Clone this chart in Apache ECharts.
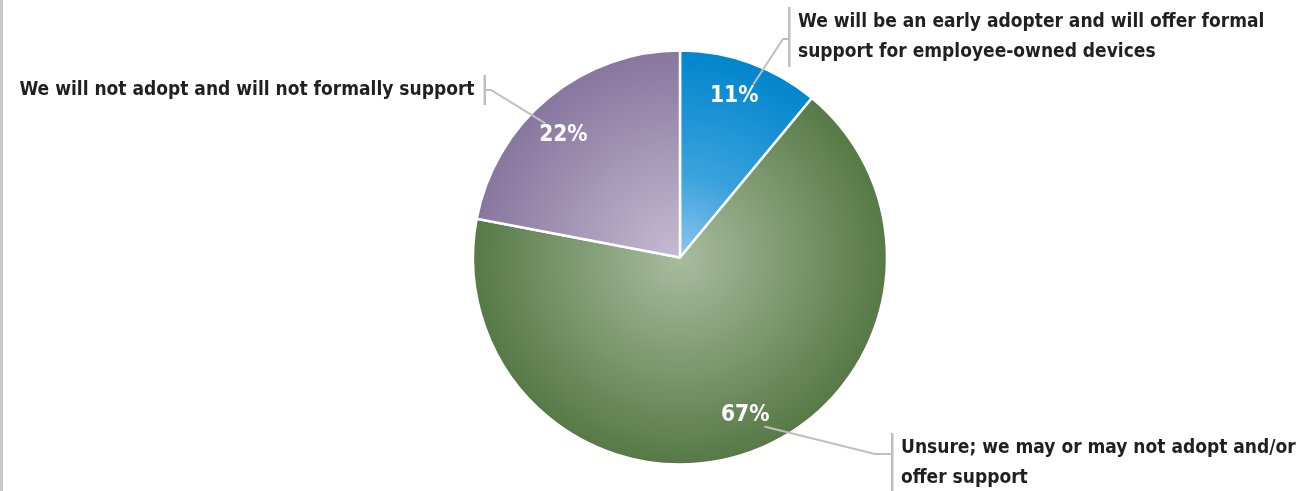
<!DOCTYPE html>
<html>
<head>
<meta charset="utf-8">
<title>Adoption of employee-owned devices</title>
<script src="https://cdn.jsdelivr.net/npm/echarts@6/dist/echarts.min.js"></script>
<style>
  html, body { margin: 0; padding: 0; background: #ffffff; }
  #chart { width: 1299px; height: 491px; }
  #rule { position: absolute; left: 0; top: 0; width: 3px; height: 491px; background: #c8c8cd; }
</style>
</head>
<body>
<div id="chart"></div>
<div id="rule"></div>
<script>
// Survey answers, in clockwise order starting at 12 o'clock
const categories = [
  'We will be an early adopter and will offer formal support for employee-owned devices',
  'Unsure; we may or may not adopt and/or offer support',
  'We will not adopt and will not formally support'
];
// How each answer is broken into lines in its callout
const calloutLines = [
  ['We will be an early adopter and will offer formal', 'support for employee-owned devices'],
  ['Unsure; we may or may not adopt and/or', 'offer support'],
  ['We will not adopt and will not formally support']
];
const values = [11, 67, 22];

// Radial gradient stops per slice (centre -> rim)
const palette = [
  [[0, '#8ec6ee'], [0.4, '#3aa2dd'], [1, '#0085cc']],
  [[0, '#a8bc9e'], [1, '#567946']],
  [[0, '#c6bbd2'], [1, '#87769e']]
];

// Pie geometry
const CX = 680, CY = 257.5, R = 207;
const PCT_R = 169;            // radius at which the percentages sit
const FONT = '"DejaVu Sans Condensed", "Liberation Sans Narrow", sans-serif';

// Small nudges of the percentage labels away from the slice mid-line
const pctNudge = [[-4, 0], [7, -4], [-7, 10]];

// Where each callout's bracket sits and how its leader line ends
const callouts = [
  { x: 788, y: 37,  lineY: 39,  elbow: 5,  side: 'right' },
  { x: 891, y: 463, lineY: 454, elbow: 16, side: 'right' },
  { x: 486, y: 90,  lineY: 90,  elbow: 5,  side: 'left' }
];

const total = values.reduce((a, b) => a + b, 0);
// Mid-angle direction of every slice (clockwise from the top)
const midDirs = (() => {
  let acc = 0;
  return values.map(v => {
    const a = (acc + v / 2) / total * Math.PI * 2;
    acc += v;
    return [Math.sin(a), -Math.cos(a)];
  });
})();

function sliceFill(i) {
  return {
    type: 'radial', x: CX, y: CY, r: R, global: true,
    colorStops: palette[i].map(s => ({ offset: s[0], color: s[1] }))
  };
}

const pieData = values.map((v, i) => ({
  value: v,
  name: categories[i],
  itemStyle: { color: sliceFill(i) }
}));
const ghostData = values.map((v, i) => ({ value: v, name: categories[i] }));

function calloutText(i) {
  const side = callouts[i].side;
  return calloutLines[i]
    .map(l => side === 'right' ? '{b| }{t|' + l + '}' : '{tl|' + l + '}{b| }')
    .join('\n');
}

const chart = echarts.init(document.getElementById('chart'), null, { renderer: 'canvas' });

const textStyle = { fontFamily: FONT, fontWeight: 'bold', fontSize: 19, color: '#231f20', lineHeight: 30 };

chart.setOption({
  animation: false,
  backgroundColor: '#ffffff',
  series: [
    {
      // the slices
      type: 'pie',
      center: [CX, CY],
      radius: [0, R],
      startAngle: 90,
      clockwise: true,
      silent: true,
      data: pieData,
      itemStyle: { borderColor: '#ffffff', borderWidth: 2.5 },
      label: { show: false },
      labelLine: { show: false },
      emphasis: { disabled: true }
    },
    {
      // percentages placed inside each slice
      type: 'pie',
      center: [CX, CY],
      radius: [PCT_R * 2 - R, R],
      startAngle: 90,
      clockwise: true,
      silent: true,
      z: 3,
      data: ghostData,
      itemStyle: { color: 'rgba(0,0,0,0)' },
      label: {
        show: true,
        position: 'inside',
        formatter: '{c}%',
        color: '#ffffff',
        fontFamily: FONT,
        fontWeight: 'bold',
        fontSize: 22.5
      },
      labelLine: { show: false },
      labelLayout: params => ({ dx: pctNudge[params.dataIndex][0], dy: pctNudge[params.dataIndex][1] }),
      emphasis: { disabled: true }
    },
    {
      // callouts with leader lines
      type: 'pie',
      center: [CX, CY],
      radius: [0, R],
      startAngle: 90,
      clockwise: true,
      silent: true,
      z: 4,
      avoidLabelOverlap: false,
      data: ghostData,
      itemStyle: { color: 'rgba(0,0,0,0)' },
      label: {
        show: true,
        position: 'outside',
        distanceToLabelLine: 0,
        formatter: p => calloutText(p.dataIndex),
        rich: {
          b: { width: 2.5, height: 30, lineHeight: 30, backgroundColor: '#bfbfbf', fontSize: 2 },
          t: Object.assign({ padding: [0, 0, 0, 7.5] }, textStyle),
          tl: Object.assign({ padding: [0, 9, 0, 0] }, textStyle)
        }
      },
      labelLine: { show: true, length: 10, length2: 10, lineStyle: { color: '#bfbfbf', width: 2 } },
      labelLayout: function (params) {
        const i = params.dataIndex;
        const c = callouts[i];
        const d = midDirs[i];
        // percentage label centre, then the corner of its box facing the callout
        const px = CX + d[0] * PCT_R + pctNudge[i][0];
        const py = CY + d[1] * PCT_R + pctNudge[i][1];
        const sx = px + Math.sign(c.x - px) * 20;
        const sy = py + Math.sign(c.lineY - py) * 14;
        const dir = c.side === 'right' ? 1 : -1;
        return {
          x: c.x,
          y: c.y,
          align: c.side === 'right' ? 'left' : 'right',
          verticalAlign: 'middle',
          labelLinePoints: [[sx, sy], [c.x - dir * c.elbow, c.lineY], [c.x, c.lineY]]
        };
      },
      emphasis: { disabled: true }
    }
  ]
});
</script>
</body>
</html>
